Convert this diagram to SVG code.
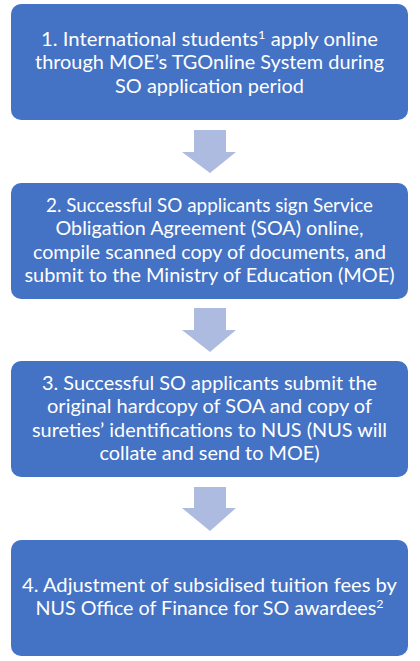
<svg xmlns="http://www.w3.org/2000/svg" width="420" height="661" viewBox="0 0 420 661">
<style>
.box{fill:#4472C4}
.arr{fill:#AEBBE0}
text{font-family:Lato,"Open Sans","Liberation Sans",sans-serif;font-size:19px;fill:#fff;text-anchor:middle}
.sup{font-size:12px}
</style>
<rect width="420" height="661" fill="#fff"/>
<g id="connectors">
<polygon class="arr" points="194,130 226,130 226,152 236,152 210,173 182,152 194,152"/>
<polygon class="arr" points="194,308 226,308 226,330 236,330 210,352 182,330 194,330"/>
<polygon class="arr" points="194,487 226,487 226,508 236,508 210,531 182,508 194,508"/>
</g>
<g id="step1">
<rect class="box" x="11" y="4" width="397" height="116" rx="10"/>
<text x="209.5" y="46" textLength="337" lengthAdjust="spacingAndGlyphs">1. International students<tspan class="sup" dy="-7">1</tspan><tspan dy="7"> apply online</tspan></text>
<text x="209.5" y="69" textLength="349" lengthAdjust="spacingAndGlyphs">through MOE’s TGOnline System during</text>
<text x="209.5" y="93" textLength="189" lengthAdjust="spacingAndGlyphs">SO application period</text>
</g>
<g id="step2">
<rect class="box" x="11" y="183" width="397" height="116" rx="10"/>
<text x="209.5" y="212" textLength="327" lengthAdjust="spacingAndGlyphs">2. Successful SO applicants sign Service</text>
<text x="209.5" y="235" textLength="308" lengthAdjust="spacingAndGlyphs">Obligation Agreement (SOA) online,</text>
<text x="209.5" y="259" textLength="353" lengthAdjust="spacingAndGlyphs">compile scanned copy of documents, and</text>
<text x="209.5" y="282" textLength="370" lengthAdjust="spacingAndGlyphs">submit to the Ministry of Education (MOE)</text>
</g>
<g id="step3">
<rect class="box" x="11" y="361" width="397" height="116" rx="10"/>
<text x="209.5" y="390" textLength="335" lengthAdjust="spacingAndGlyphs">3. Successful SO applicants submit the</text>
<text x="209.5" y="413" textLength="325" lengthAdjust="spacingAndGlyphs">original hardcopy of SOA and copy of</text>
<text x="209.5" y="437" textLength="355" lengthAdjust="spacingAndGlyphs">sureties’ identifications to NUS (NUS will</text>
<text x="209.5" y="460" textLength="220" lengthAdjust="spacingAndGlyphs">collate and send to MOE)</text>
</g>
<g id="step4">
<rect class="box" x="11" y="540" width="397" height="116" rx="10"/>
<text x="209.5" y="592" textLength="375" lengthAdjust="spacingAndGlyphs">4. Adjustment of subsidised tuition fees by</text>
<text x="209.5" y="615" textLength="348" lengthAdjust="spacingAndGlyphs">NUS Office of Finance for SO awardees<tspan class="sup" dy="-7">2</tspan></text>
</g>
</svg>
